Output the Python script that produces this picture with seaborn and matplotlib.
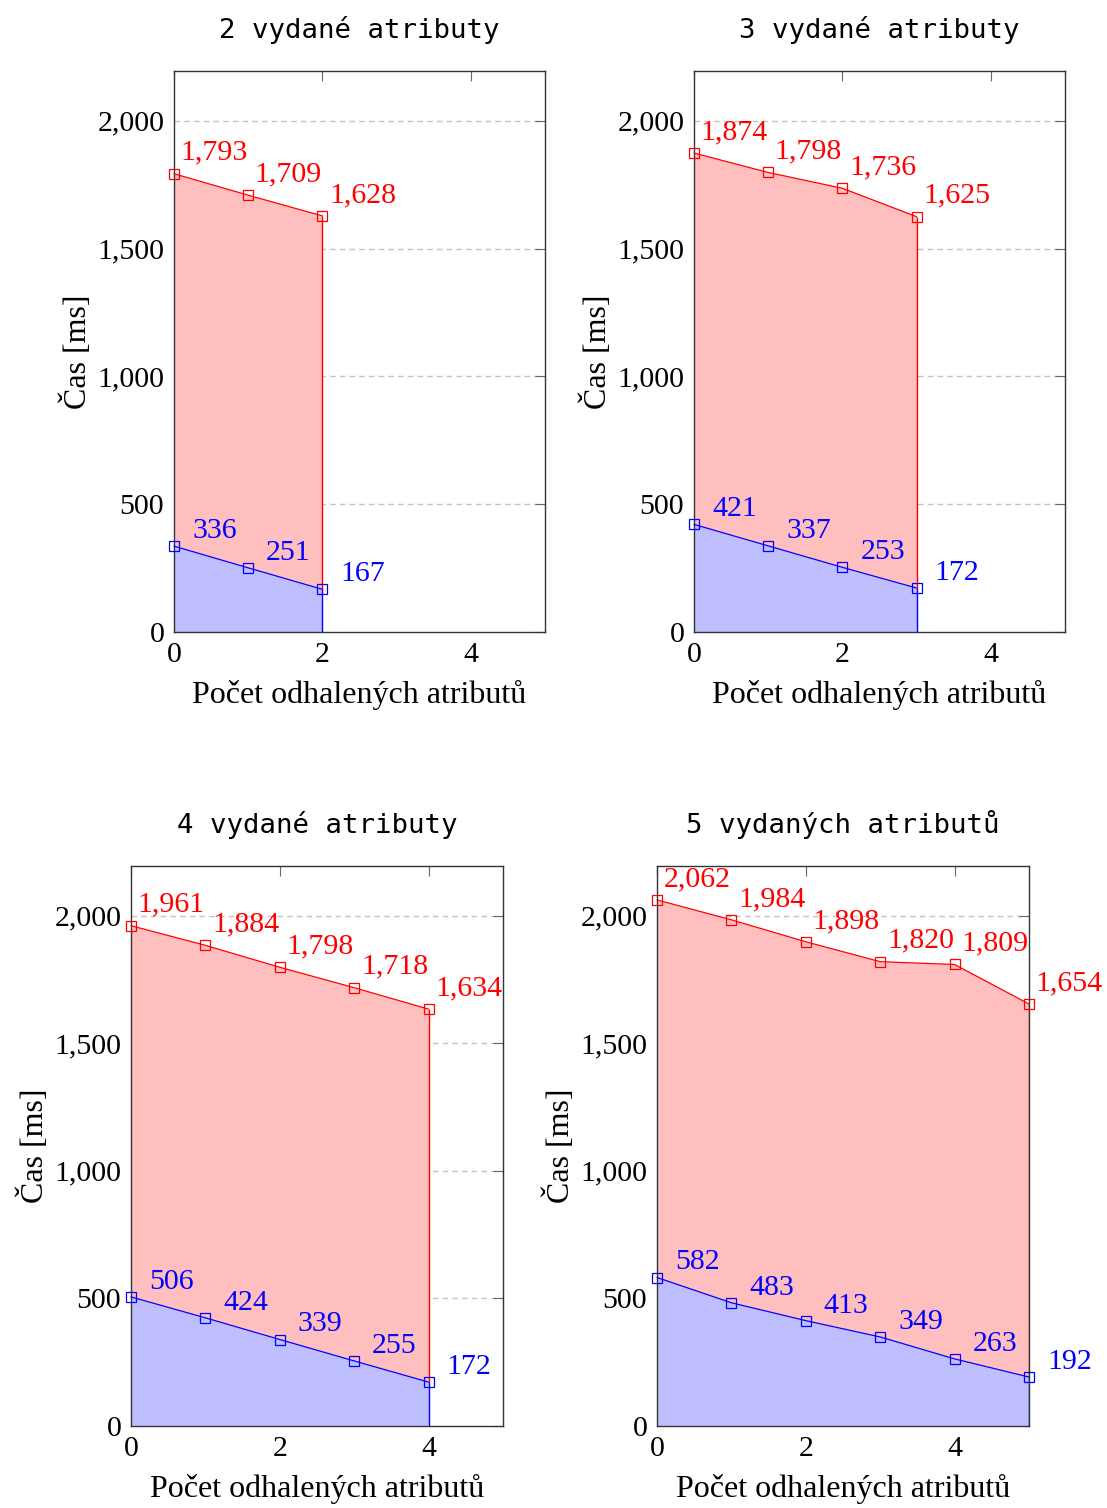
import matplotlib
matplotlib.use('Agg')
import matplotlib.pyplot as plt
import seaborn as sns
from matplotlib.ticker import FuncFormatter

sns.set_theme(style='white')
plt.rcParams['font.family'] = ['Liberation Serif', 'DejaVu Serif']

# data
titles = ['2 vydané atributy', '3 vydané atributy', '4 vydané atributy', '5 vydaných atributů']
red_2 = [1793, 1709, 1628]
blue_2 = [336, 251, 167]
red_3 = [1874, 1798, 1736, 1625]
blue_3 = [421, 337, 253, 172]
red_4 = [1961, 1884, 1798, 1718, 1634]
blue_4 = [506, 424, 339, 255, 172]
red_5 = [2062, 1984, 1898, 1820, 1809, 1654]
blue_5 = [582, 483, 413, 349, 263, 192]
y_ticks = [0, 500, 1000, 1500, 2000]
x_ticks = [0, 2, 4]

panels = [(red_2, blue_2), (red_3, blue_3), (red_4, blue_4), (red_5, blue_5)]

# axes rectangles in figure fraction (left, bottom, width, height)
W, H = 1107, 1508
rects = [
    (174 / W, 1 - 632 / H, 371 / W, 561 / H),
    (694 / W, 1 - 632 / H, 371 / W, 561 / H),
    (131 / W, 1 - 1426 / H, 372 / W, 560 / H),
    (657 / W, 1 - 1426 / H, 372 / W, 560 / H),
]

fig = plt.figure(figsize=(W / 100, H / 100), dpi=100)
fs = 21.5

for title, (red, blue), rect in zip(titles, panels, rects):
    ax = fig.add_axes(rect)
    x = list(range(len(red)))

    # fills: red between the two series, blue down to zero
    ax.fill_between(x, blue, red, color='#ffbfbf', lw=0, zorder=1)
    ax.fill_between(x, 0, blue, color='#bfbfff', lw=0, zorder=1)
    ax.vlines(x[-1], blue[-1], red[-1], color='red', lw=1, zorder=2)
    ax.vlines(x[-1], 0, blue[-1], color='blue', lw=1, zorder=2)

    for vals, col, dy in [(red, 'red', 10), (blue, 'blue', 5.8)]:
        sns.lineplot(x=x, y=vals, ax=ax, color=col, lw=0.9, marker='s', ms=7,
                     markerfacecolor='none', markeredgecolor=col, markeredgewidth=0.9,
                     zorder=6, clip_on=False)
        for xi, v in zip(x, vals):
            ax.annotate(f'{v:,}', (xi, v), xytext=(29, dy), textcoords='offset points',
                        ha='center', va='baseline', color=col, fontsize=fs,
                        annotation_clip=False, zorder=7)

    ax.set_xlim(0, 5)
    ax.set_ylim(0, 2195)
    ax.set_xticks(x_ticks)
    ax.set_yticks(y_ticks)
    ax.yaxis.set_major_formatter(FuncFormatter(lambda v, p: f'{int(v):,}'))
    for yv in y_ticks[1:]:
        ax.axhline(yv, color='#c4c4c4', lw=1, ls=(0, (4, 3)), zorder=0.5)

    ax.tick_params(direction='in', length=7.5, width=0.8, color='#666666',
                   top=True, right=True, labelsize=fs, pad=7, labelcolor='black')
    for sp in ax.spines.values():
        sp.set_color('#333333')
        sp.set_linewidth(1)
        sp.set_zorder(5)

    ax.set_xlabel('Počet odhalených atributů', fontsize=23, labelpad=9, color='black')
    ax.set_ylabel('Čas [ms]', fontsize=23, labelpad=3, color='black')
    ax.set_title(title, fontsize=19.7, family='DejaVu Sans Mono', pad=24, color='black')

fig.savefig('out.png', dpi=100)
